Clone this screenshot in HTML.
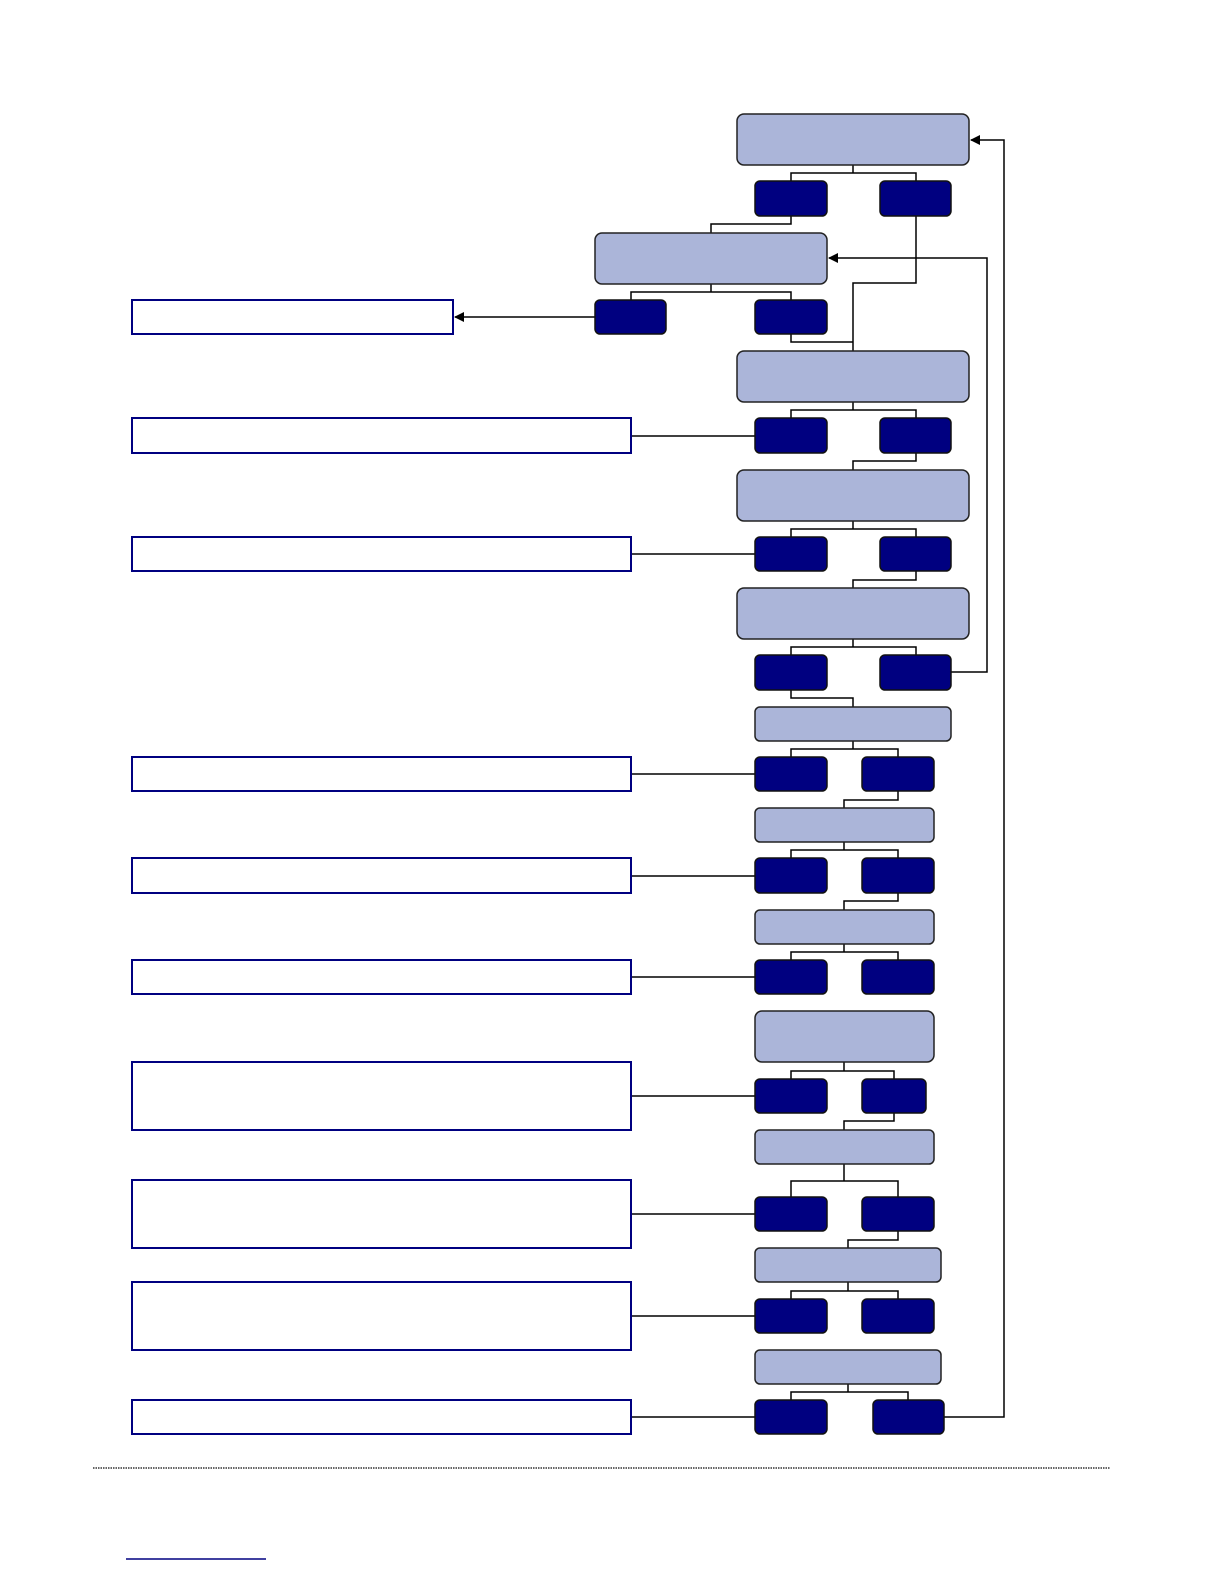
<!DOCTYPE html>
<html><head><meta charset="utf-8"><style>html,body{margin:0;padding:0;background:#fff}svg{display:block}</style></head>
<body>
<svg width="1224" height="1584" viewBox="0 0 1224 1584" xmlns="http://www.w3.org/2000/svg">
<defs><marker id="ar" markerWidth="10" markerHeight="10" refX="9" refY="5" orient="auto" markerUnits="userSpaceOnUse"><path d="M0,0 L10,5 L0,10 z" fill="#000"/></marker></defs>
<g fill="none" stroke="#000" stroke-width="1.5">
<!-- tree connectors -->
<path d="M853,165V173M791,181V173H916V181"/>
<path d="M791,216V224H711V233"/>
<path d="M711,284V292M631,300V292H791V300"/>
<path d="M916,216V283H853V351M791,334V342H853"/>
<path d="M853,402V410M791,418V410H916V418"/>
<path d="M916,453V461H853V470"/>
<path d="M853,521V529M791,537V529H916V537"/>
<path d="M916,571V580H853V588"/>
<path d="M853,639V647M791,655V647H916V655"/>
<path d="M791,690V698H853V707"/>
<path d="M853,741V749M791,757V749H898V757"/>
<path d="M898,791V800H844V808"/>
<path d="M844,842V850M791,858V850H898V858"/>
<path d="M898,893V901H844V910"/>
<path d="M844,944V952M791,960V952H898V960"/>
<path d="M844,1062V1071M791,1079V1071H894V1079"/>
<path d="M894,1113V1121H844V1130"/>
<path d="M844,1164V1181M791,1197V1181H898V1197"/>
<path d="M898,1231V1240H848V1248"/>
<path d="M848,1282V1291M791,1299V1291H898V1299"/>
<path d="M848,1384V1392M791,1400V1392H908V1400"/>
<!-- side lines -->
<path d="M631,436H755M631,554H755M631,774H755M631,876H755M631,977H755M631,1096H755M631,1214H755M631,1316H755M631,1417H755"/>
<path d="M595,317H455" marker-end="url(#ar)"/>
<path d="M951,672H987V258H829" marker-end="url(#ar)"/>
<path d="M944,1417H1004V140H971" marker-end="url(#ar)"/>
</g>
<g fill="#abb5d9" stroke="#222" stroke-width="1.5">
<rect x="737" y="114" width="232" height="51" rx="7"/>
<rect x="595" y="233" width="232" height="51" rx="7"/>
<rect x="737" y="351" width="232" height="51" rx="7"/>
<rect x="737" y="470" width="232" height="51" rx="7"/>
<rect x="737" y="588" width="232" height="51" rx="7"/>
<rect x="755" y="707" width="196" height="34" rx="5"/>
<rect x="755" y="808" width="179" height="34" rx="5"/>
<rect x="755" y="910" width="179" height="34" rx="5"/>
<rect x="755" y="1011" width="179" height="51" rx="7"/>
<rect x="755" y="1130" width="179" height="34" rx="5"/>
<rect x="755" y="1248" width="186" height="34" rx="5"/>
<rect x="755" y="1350" width="186" height="34" rx="5"/>
</g>
<g fill="#000080" stroke="#111" stroke-width="1.5">
<rect x="755" y="181" width="72" height="35" rx="5"/><rect x="880" y="181" width="71" height="35" rx="5"/>
<rect x="595" y="300" width="71" height="34" rx="5"/><rect x="755" y="300" width="72" height="34" rx="5"/>
<rect x="755" y="418" width="72" height="35" rx="5"/><rect x="880" y="418" width="71" height="35" rx="5"/>
<rect x="755" y="537" width="72" height="34" rx="5"/><rect x="880" y="537" width="71" height="34" rx="5"/>
<rect x="755" y="655" width="72" height="35" rx="5"/><rect x="880" y="655" width="71" height="35" rx="5"/>
<rect x="755" y="757" width="72" height="34" rx="5"/><rect x="862" y="757" width="72" height="34" rx="5"/>
<rect x="755" y="858" width="72" height="35" rx="5"/><rect x="862" y="858" width="72" height="35" rx="5"/>
<rect x="755" y="960" width="72" height="34" rx="5"/><rect x="862" y="960" width="72" height="34" rx="5"/>
<rect x="755" y="1079" width="72" height="34" rx="5"/><rect x="862" y="1079" width="64" height="34" rx="5"/>
<rect x="755" y="1197" width="72" height="34" rx="5"/><rect x="862" y="1197" width="72" height="34" rx="5"/>
<rect x="755" y="1299" width="72" height="34" rx="5"/><rect x="862" y="1299" width="72" height="34" rx="5"/>
<rect x="755" y="1400" width="72" height="34" rx="5"/><rect x="873" y="1400" width="71" height="34" rx="5"/>
</g>
<g fill="#fff" stroke="#000080" stroke-width="2">
<rect x="132" y="300" width="321" height="34"/>
<rect x="132" y="418" width="499" height="35"/>
<rect x="132" y="537" width="499" height="34"/>
<rect x="132" y="757" width="499" height="34"/>
<rect x="132" y="858" width="499" height="35"/>
<rect x="132" y="960" width="499" height="34"/>
<rect x="132" y="1062" width="499" height="68"/>
<rect x="132" y="1180" width="499" height="68"/>
<rect x="132" y="1282" width="499" height="68"/>
<rect x="132" y="1400" width="499" height="34"/>
</g>
<line x1="93" y1="1468" x2="1110" y2="1468" stroke="#333" stroke-width="1.5" stroke-dasharray="1.5,1"/>
<line x1="126" y1="1559" x2="266" y2="1559" stroke="#000080" stroke-width="1.5"/>
</svg>
</body></html>
